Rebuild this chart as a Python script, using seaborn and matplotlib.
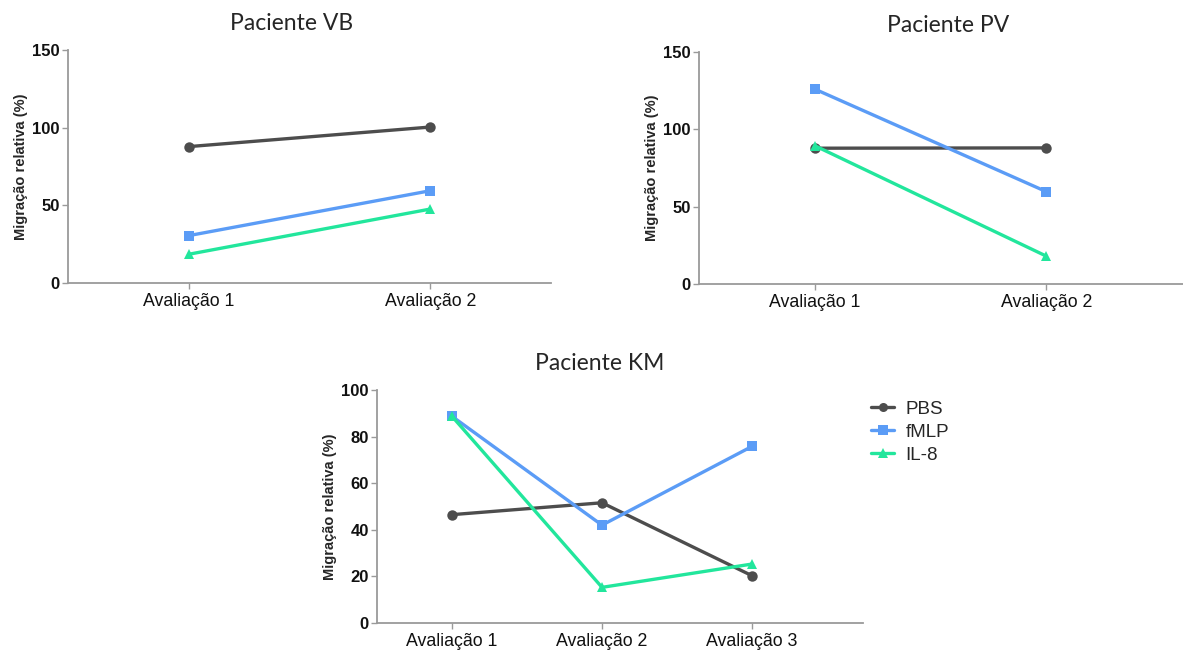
import pandas as pd
import matplotlib
matplotlib.use("Agg")
import matplotlib.pyplot as plt
import seaborn as sns

# Data
grupos = ["PBS", "fMLP", "IL-8"]
cores = {"PBS": "#4d4d4d", "fMLP": "#5b9cf6", "IL-8": "#22e69c"}
marcadores = {"PBS": "o", "fMLP": "s", "IL-8": "^"}

avaliacoes_2 = ["Avaliação 1", "Avaliação 2"]
avaliacoes_3 = ["Avaliação 1", "Avaliação 2", "Avaliação 3"]

vb_pbs = [87.8, 100.4]
vb_fmlp = [30.5, 59.4]
vb_il8 = [18.5, 47.6]

pv_pbs = [87.8, 88.0]
pv_fmlp = [126.0, 59.7]
pv_il8 = [89.4, 18.0]

km_pbs = [46.5, 51.6, 20.3]
km_fmlp = [88.7, 42.0, 75.8]
km_il8 = [88.7, 15.3, 25.3]


def long_df(avals, pbs, fmlp, il8):
    rows = []
    for g, vals in zip(grupos, [pbs, fmlp, il8]):
        for a, v in zip(avals, vals):
            rows.append({"avaliacao": a, "valor": v, "grupo": g})
    return pd.DataFrame(rows)


sns.set_style("ticks")
plt.rcParams["font.family"] = ["Liberation Sans", "DejaVu Sans"]

fig = plt.figure(figsize=(11.83, 6.51), dpi=100)
W, H = 1183, 651


def make_ax(left, right, top, bottom):
    return fig.add_axes([left / W, 1 - bottom / H, (right - left) / W, (bottom - top) / H])


def draw(ax, df, ymax, ystep, xmax, title, tx):
    sns.lineplot(data=df, x="avaliacao", y="valor", hue="grupo", style="grupo",
                 hue_order=grupos, style_order=grupos, palette=cores,
                 markers=marcadores, dashes=False, sort=False, linewidth=2.4,
                 markersize=7.5, markeredgewidth=0, ax=ax, legend=False)
    ax.set_ylim(0, ymax)
    ax.set_yticks(range(0, ymax + 1, ystep))
    ax.set_xlim(-0.5, xmax)
    ax.set_xlabel("")
    ax.set_ylabel("Migração relativa (%)", fontsize=10.5, fontweight="bold", labelpad=3)
    for s in ["top", "right"]:
        ax.spines[s].set_visible(False)
    for s in ["left", "bottom"]:
        ax.spines[s].set_color("#9a9a9a")
        ax.spines[s].set_linewidth(1.3)
    ax.tick_params(axis="y", labelsize=12, colors="#9a9a9a", labelcolor="#111111",
                   length=4, width=1, pad=2)
    ax.tick_params(axis="x", labelsize=12.8, colors="#9a9a9a", labelcolor="#111111",
                   length=4, width=1, pad=3)
    for lbl in ax.get_yticklabels():
        lbl.set_fontweight("bold")
    bbox = ax.get_position()
    fig.text(tx / W, bbox.y1 + 26 / H, title, ha="center", va="center",
             fontsize=16.5, family=["Lato", "DejaVu Sans"])


ax1 = make_ax(68, 551, 50, 283)
draw(ax1, long_df(avaliacoes_2, vb_pbs, vb_fmlp, vb_il8), 150, 50, 1.5,
     "Paciente VB", 292)

ax2 = make_ax(699, 1183, 52, 284)
draw(ax2, long_df(avaliacoes_2, pv_pbs, pv_fmlp, pv_il8), 150, 50, 1.59,
     "Paciente PV", 948)

ax3 = make_ax(377, 863, 390, 623)
draw(ax3, long_df(avaliacoes_3, km_pbs, km_fmlp, km_il8), 100, 20, 2.74,
     "Paciente KM", 600)

# Legend
handles = [plt.Line2D([], [], color=cores[g], marker=marcadores[g], linewidth=2.4,
                      markersize=6.5, markeredgewidth=0) for g in grupos]
fig.legend(handles, grupos, loc="upper left", bbox_to_anchor=(854 / W, 1 - 384 / H),
           frameon=False, fontsize=13.5, handlelength=1.25, handletextpad=0.6,
           labelspacing=0.3)

fig.savefig("out.png", dpi=100)
